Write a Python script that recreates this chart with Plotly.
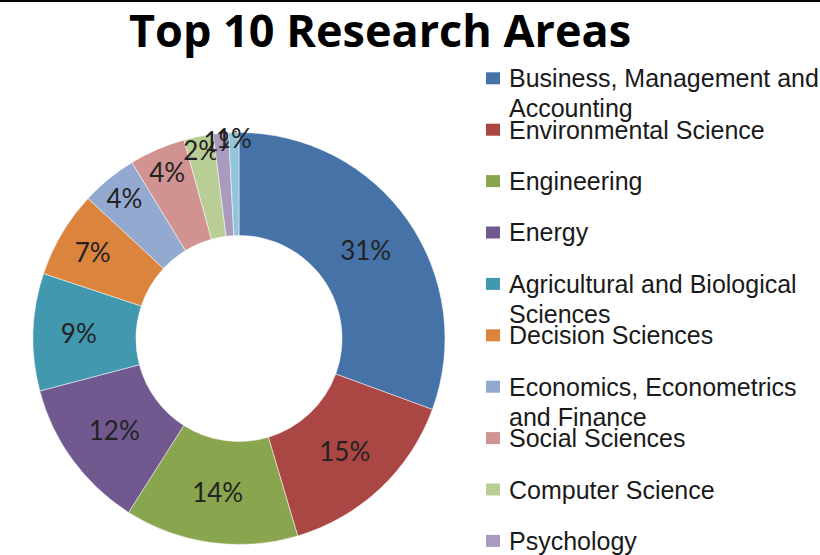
import plotly.graph_objects as go

# ---- data ----
categories = [
    "Business, Management and<br>Accounting",
    "Environmental Science",
    "Engineering",
    "Energy",
    "Agricultural and Biological<br>Sciences",
    "Decision Sciences",
    "Economics, Econometrics<br>and Finance",
    "Social Sciences",
    "Computer Science",
    "Psychology",
    "Earth and Planetary Sciences",
]
shares = [30.6, 14.8, 13.6, 11.9, 9.2, 6.8, 4.4, 4.4, 2.3, 1.2, 0.8]
colors = ["#4572A7", "#AA4643", "#89A54E", "#71588F", "#4198AF",
          "#DB843D", "#93A9CF", "#D19392", "#B9CD96", "#A99BBD", "#92C5DA"]
title_text = "Top 10 Research Areas"

W, H = 820, 555

def px(x):
    return x / W

def py(y):
    return 1 - y / H

cx, cy, r = 239, 338.5, 206

fig = go.Figure(go.Pie(
    labels=[c.replace("<br>", " ") for c in categories],
    values=shares,
    hole=0.5,
    sort=False,
    direction="clockwise",
    rotation=0,
    marker=dict(colors=colors, line=dict(color="rgba(255,255,255,0.5)", width=1)),
    texttemplate="%{percent:.0%}",
    textposition="inside",
    insidetextorientation="horizontal",
    textfont=dict(family="Lato", size=26, color="#222222"),
    domain=dict(x=[px(cx - r), px(cx + r)], y=[py(cy + r), py(cy - r)]),
    showlegend=False,
    hoverinfo="label+percent",
))

shapes = [dict(type="rect", xref="paper", yref="paper", x0=0, x1=1,
               y0=py(2), y1=1, fillcolor="black", line=dict(width=0))]
annotations = [dict(text=title_text, xref="paper", yref="paper",
                    x=px(380), y=py(29), xanchor="center", yanchor="middle",
                    showarrow=False,
                    font=dict(family="Open Sans", size=45, color="black", weight="bold"))]

y0, step = 78.3, 51.4
for i, (cat, col) in enumerate(zip(categories, colors)):
    yc = y0 + i * step
    shapes.append(dict(type="rect", xref="paper", yref="paper",
                       x0=px(486), x1=px(500), y0=py(yc + 6), y1=py(yc - 6),
                       fillcolor=col, line=dict(width=0)))
    for j, line in enumerate(cat.split("<br>")):
        annotations.append(dict(text=line, xref="paper", yref="paper",
                                x=px(507), y=py(yc + j * 30),
                                xanchor="left", yanchor="middle", showarrow=False,
                                font=dict(family="Liberation Sans", size=25,
                                          color="#1a1a1a")))

fig.update_layout(
    width=W, height=H,
    margin=dict(l=0, r=0, t=0, b=0),
    paper_bgcolor="white", plot_bgcolor="white",
    uniformtext=dict(minsize=26, mode="show"),
    shapes=shapes, annotations=annotations,
)

fig.write_html("out.html",
               config={"displayModeBar": False},
               post_script="document.body.style.margin='0';document.body.style.overflow='hidden';")
